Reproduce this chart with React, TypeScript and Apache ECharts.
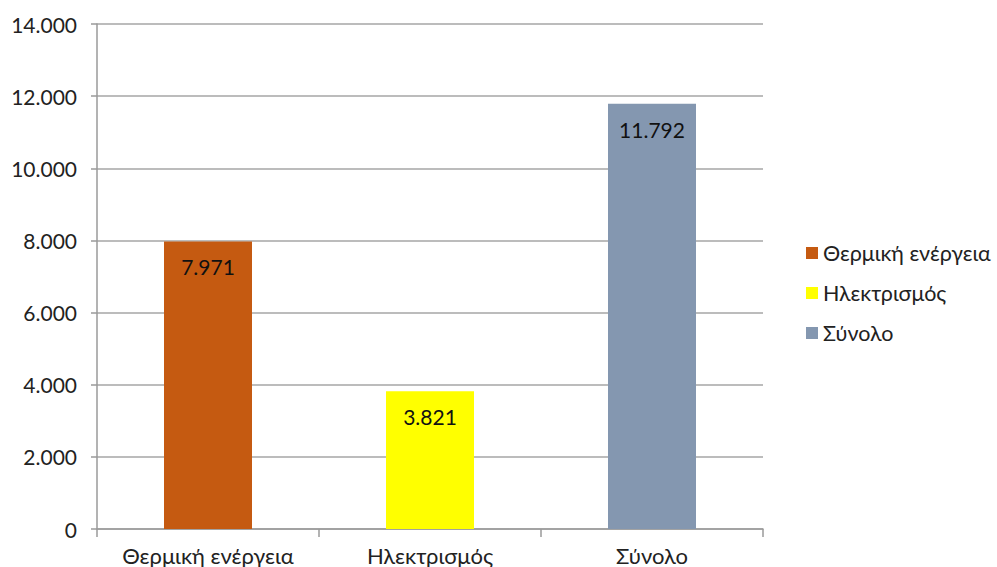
import React, { useEffect, useRef } from "react";
import * as echarts from "echarts";

const categories = ["Θερμική ενέργεια", "Ηλεκτρισμός", "Σύνολο"];
const seriesNames = ["Θερμική ενέργεια", "Ηλεκτρισμός", "Σύνολο"];
const values = [7971, 3821, 11792];
const colors = ["#C55A11", "#FFFF00", "#8497B0"];
const yTicks = [0, 2000, 4000, 6000, 8000, 10000, 12000, 14000];

const fmt = (v: number) => String(v).replace(/\B(?=(\d{3})+(?!\d))/g, ".");
const FONT = "Lato, 'Open Sans', sans-serif";

export default function App() {
  const ref = useRef<HTMLDivElement>(null);
  useEffect(() => {
    if (!ref.current) return;
    const chart = echarts.init(ref.current, null, { renderer: "svg" });
    chart.setOption({
      animation: false,
      backgroundColor: "#ffffff",
      textStyle: { fontFamily: FONT },
      grid: { left: 97, right: 234, top: 24, bottom: 38 },
      legend: {
        orient: "vertical",
        left: 801,
        top: 237,
        itemWidth: 12,
        itemHeight: 12,
        itemGap: 18,
        icon: "rect",
        textStyle: { fontSize: 21.5, color: "#222", fontFamily: FONT },
        data: seriesNames,
      },
      xAxis: {
        type: "category",
        data: categories,
        axisLine: { lineStyle: { color: "#9a9a9a", width: 1.5 } },
        axisTick: { show: true, length: 8, lineStyle: { color: "#9a9a9a", width: 1.5 } },
        axisLabel: { fontSize: 22, color: "#222", margin: 15, fontFamily: FONT, interval: 0, hideOverlap: false },
      },
      yAxis: {
        type: "value",
        min: yTicks[0],
        max: yTicks[yTicks.length - 1],
        interval: 2000,
        axisLine: { show: true, lineStyle: { color: "#9a9a9a", width: 1.5 } },
        axisTick: { show: true, length: 6, lineStyle: { color: "#9a9a9a", width: 1.5 } },
        splitLine: { lineStyle: { color: "#a6a6a6", width: 1.5 } },
        axisLabel: {
          fontSize: 21,
          color: "#222",
          margin: 20,
          fontFamily: FONT,
          formatter: (v: number) => fmt(v),
        },
      },
      series: seriesNames.map((name, i) => ({
        name,
        type: "bar",
        stack: "all",
        barWidth: 88,
        itemStyle: { color: colors[i] },
        label: {
          show: true,
          position: "insideTop",
          distance: 15,
          fontSize: 21,
          color: "#111",
          fontFamily: FONT,
          formatter: (p: any) => fmt(p.value),
        },
        data: categories.map((_, j) => (j === i ? values[i] : "-")),
      })),
    });
    return () => chart.dispose();
  }, []);
  return <div ref={ref} style={{ width: 997, height: 567, position: "absolute", left: 0, top: 0 }} />;
}
